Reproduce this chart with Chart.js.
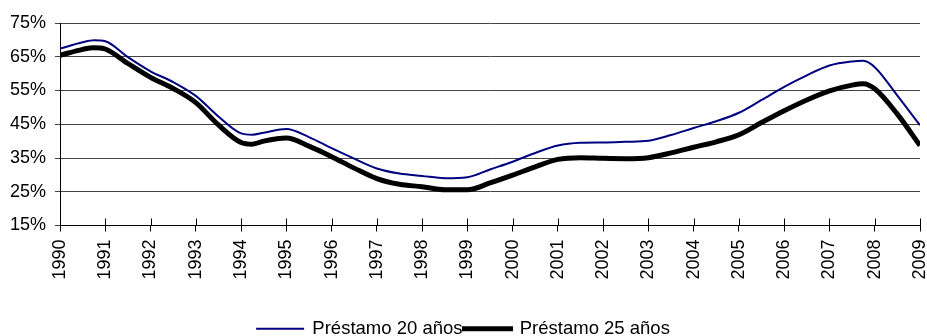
<!DOCTYPE html>
<html lang="es">
<head>
<meta charset="UTF-8">
<title>Esfuerzo hipotecario</title>
<script src="https://cdn.jsdelivr.net/npm/chart.js@4.4.0/dist/chart.umd.min.js"></script>
<style>
    body { margin: 0; background: #fff; }
    #wrap { width: 927px; height: 336px; }
</style>
</head>
<body>
<div id="wrap"><canvas id="grafico"></canvas></div>

<script>
// periodos (años, con algunos puntos intermedios)
const periodos = [1990, 1990.5, 1990.75, 1991, 1991.5, 1992, 1992.5, 1993, 1993.5, 1994, 1994.25, 1994.5,
    1995, 1995.5, 1996, 1996.5, 1997, 1997.5, 1998, 1998.5, 1999, 1999.5, 2000, 2000.5, 2001, 2001.5,
    2002, 2002.5, 2003, 2003.5, 2004, 2004.5, 2005, 2005.5, 2006, 2006.5, 2007, 2007.5, 2007.75, 2008, 2008.5, 2009];

// esfuerzo (% de la renta)
const prestamo20 = [67.4, 69.3, 69.9, 69.6, 64.9, 60.7, 57.5, 53.4, 47.3, 42.3, 41.9, 42.5,
    43.6, 41.2, 37.9, 34.8, 31.9, 30.4, 29.7, 29.0, 29.3, 31.6, 33.9, 36.5, 38.7, 39.5,
    39.6, 39.8, 40.1, 41.8, 43.9, 45.9, 48.4, 52.2, 56.1, 59.5, 62.4, 63.6, 63.8, 61.9, 53.5, 44.7];

const prestamo25 = [65.4, 67.2, 67.7, 67.3, 63.0, 58.9, 55.6, 51.4, 44.8, 39.6, 39.1, 40.0,
    40.9, 38.5, 35.4, 32.0, 28.9, 27.2, 26.5, 25.6, 25.6, 27.6, 29.9, 32.4, 34.6, 35.1,
    34.9, 34.8, 35.1, 36.5, 38.2, 39.8, 41.9, 45.5, 49.0, 52.2, 54.9, 56.6, 57.0, 55.5, 48.0, 38.7];

const etiquetas = ['Préstamo 20 años', 'Préstamo 25 años'];

function puntos(valores) {
    return periodos.map((p, i) => ({ x: p, y: valores[i] }));
}

// marcas del eje X que cruzan también hacia dentro del gráfico
const marcasInternas = {
    id: 'marcasInternas',
    afterDatasetsDraw(chart) {
        const x = chart.scales.x;
        const ctx = chart.ctx;
        const base = chart.chartArea.bottom;
        ctx.save();
        ctx.strokeStyle = '#000';
        ctx.lineWidth = 1;
        ctx.beginPath();
        x.ticks.forEach(t => {
            const px = Math.round(x.getPixelForValue(t.value)) + 0.5;
            ctx.moveTo(px, base - 7);
            ctx.lineTo(px, base);
        });
        ctx.stroke();
        ctx.restore();
    }
};

Chart.defaults.font.family = '"Liberation Sans", Arial, sans-serif';
Chart.defaults.font.size = 18;
Chart.defaults.color = '#000';

new Chart(document.getElementById('grafico'), {
    type: 'line',
    data: {
        datasets: [{
            label: etiquetas[0],
            data: puntos(prestamo20),
            borderColor: '#000080',
            backgroundColor: '#000080',
            borderWidth: 2,
            pointRadius: 0,
            cubicInterpolationMode: 'monotone'
        }, {
            label: etiquetas[1],
            data: puntos(prestamo25),
            borderColor: '#000',
            backgroundColor: '#000',
            borderWidth: 5,
            pointRadius: 0,
            cubicInterpolationMode: 'monotone'
        }]
    },
    options: {
        responsive: true,
        maintainAspectRatio: false,
        animation: false,
        // la leyenda queda pegada al borde inferior
        layout: { padding: { top: 23, right: 0, left: 0, bottom: -12 } },
        scales: {
            x: {
                type: 'linear',
                min: 1990,
                max: 2009,
                afterFit(scale) {
                    scale.height = 92;
                    scale.paddingRight = 7;
                },
                border: { color: '#000', width: 1 },
                grid: { drawOnChartArea: false, color: '#000', tickLength: 6 },
                ticks: {
                    stepSize: 1,
                    minRotation: 90,
                    maxRotation: 90,
                    padding: 8,
                    callback: v => String(v)
                }
            },
            y: {
                min: 15,
                max: 75,
                afterFit(scale) { scale.width = 60; },
                border: { color: '#000', width: 1 },
                grid: { color: '#444', tickLength: 5 },
                ticks: {
                    stepSize: 10,
                    padding: 9,
                    callback: v => v + '%'
                }
            }
        },
        plugins: {
            legend: {
                position: 'bottom',
                labels: {
                    boxWidth: 46,
                    boxHeight: 0.1,
                    padding: 2,
                    font: { size: 18.5, lineHeight: 1 }
                }
            },
            tooltip: { enabled: false }
        }
    },
    plugins: [marcasInternas]
});
</script>
</body>
</html>
